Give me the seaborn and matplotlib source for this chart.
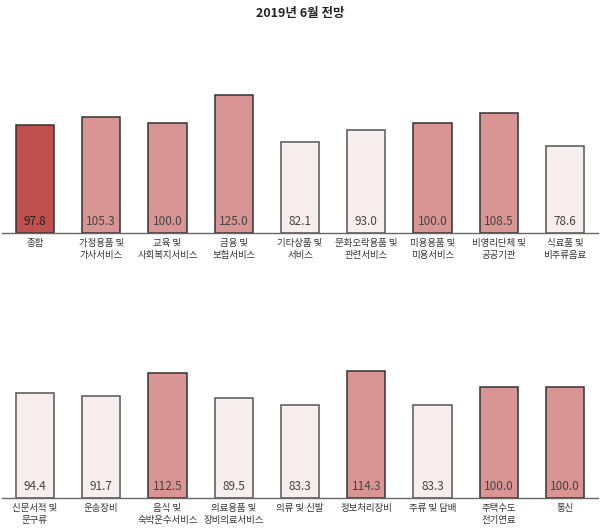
import matplotlib
matplotlib.use("Agg")
import matplotlib.pyplot as plt
import seaborn as sns

# top panel
top_labels = ["종합", "가정용품 및\n가사서비스", "교육 및\n사회복지서비스", "금융 및\n보험서비스",
              "기타상품 및\n서비스", "문화오락용품 및\n관련서비스", "미용용품 및\n미용서비스",
              "비영리단체 및\n공공기관", "식료품 및\n비주류음료"]
top_values = [97.8, 105.3, 100.0, 125.0, 82.1, 93.0, 100.0, 108.5, 78.6]

# bottom panel
bottom_labels = ["신문서적 및\n문구류", "운송장비", "음식 및\n숙박운수서비스", "의료용품 및\n장비의료서비스",
                 "의류 및 신발", "정보처리장비", "주류 및 담배", "주택수도\n전기연료", "통신"]
bottom_values = [94.4, 91.7, 112.5, 89.5, 83.3, 114.3, 83.3, 100.0, 100.0]

title = "2019년 6월 전망"

DARK = "#c0504d"
PINK = "#d99594"
LIGHT = "#f9eeee"

sns.set_theme(style="white")
plt.rcParams['font.family'] = ['Noto Sans CJK KR', 'DejaVu Sans']


def bar_colors(values, first_is_total=False):
    cols = []
    for i, v in enumerate(values):
        if first_is_total and i == 0:
            cols.append(DARK)
        elif v >= 100:
            cols.append(PINK)
        else:
            cols.append(LIGHT)
    return cols


def draw_panel(ax, labels, values, first_is_total=False):
    cols = bar_colors(values, first_is_total)
    sns.barplot(x=labels, y=values, hue=labels, palette=cols, legend=False,
                width=0.58, saturation=1, ax=ax, linewidth=1.1, edgecolor="#333333")
    for patch, c in zip(ax.patches, cols):
        if c == LIGHT:
            patch.set_edgecolor("#555555")
    for i, v in enumerate(values):
        ax.text(i, 10, f"{v:.1f}", ha="center", va="center", fontsize=8.5,
                color="#222222" if cols[i] == DARK else "#444444")
    ax.set_xlim(-0.5, len(labels) - 0.5)
    ax.set_ylim(0, 150)
    ax.set_xlabel("")
    ax.set_ylabel("")
    ax.set_yticks([])
    for s in ["top", "left", "right"]:
        ax.spines[s].set_visible(False)
    ax.spines["bottom"].set_color("#666666")
    ax.spines["bottom"].set_linewidth(1.0)
    ax.set_xticks(range(len(labels)))
    ax.set_xticklabels(labels, fontsize=6.8, color="#333333", linespacing=1.45)
    ax.tick_params(axis="x", which="major", length=0, pad=4)
    ax.set_xticks([i - 0.5 for i in range(len(labels) + 1)], minor=True)
    ax.tick_params(axis="x", which="minor", length=5, width=0.8, color="#666666", direction="out")


fig = plt.figure(figsize=(6, 5.3), dpi=100)
ax1 = fig.add_axes([0.003, 0.5604, 0.994, 0.3125])
ax2 = fig.add_axes([0.003, 0.0604, 0.994, 0.3147])

draw_panel(ax1, top_labels, top_values, first_is_total=True)
draw_panel(ax2, bottom_labels, bottom_values)

fig.text(0.5, 0.974, title, ha="center", va="center", fontsize=9, fontweight="bold", color="#222222")

fig.savefig("out.png", dpi=100)
